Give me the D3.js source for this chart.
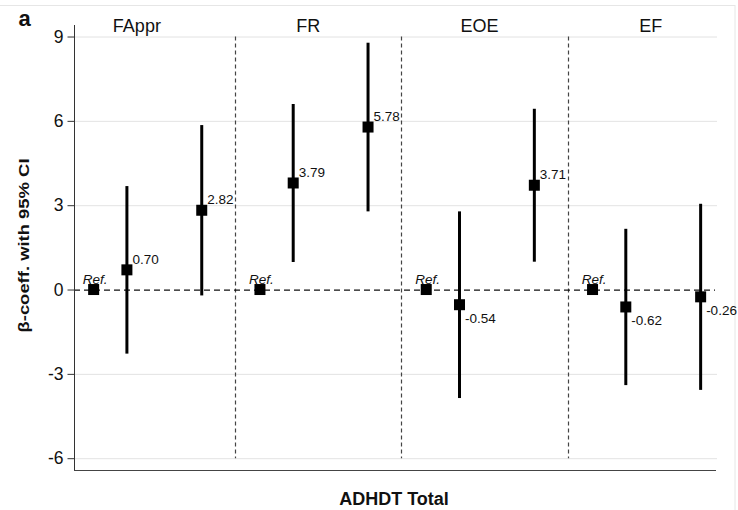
<!DOCTYPE html>
<html>
<head>
<meta charset="utf-8">
<script src="https://cdn.jsdelivr.net/npm/d3@7/dist/d3.min.js"></script>
<style>
  html, body { margin: 0; padding: 0; background: #fff; }
  svg { display: block; font-family: "Liberation Sans", Arial, Helvetica, sans-serif; }
</style>
</head>
<body>
<svg id="chart" width="738" height="510"></svg>
<script>
// Outcome domains (one panel each)
const panels = ["FAppr", "FR", "EOE", "EF"];
// Exposure levels within each panel: reference group and two comparison groups
const levels = ["Ref", "Mid", "High"];
// Beta coefficients per panel (reference group = 0)
const estimates = [
  [0, 0.70, 2.82],
  [0, 3.79, 5.78],
  [0, -0.54, 3.71],
  [0, -0.62, -0.26]
];
// 95% confidence limits (none for the reference group)
const lower = [
  [null, -2.28, -0.21],
  [null, 0.98, 2.78],
  [null, -3.86, 0.99],
  [null, -3.40, -3.57]
];
const upper = [
  [null, 3.68, 5.85],
  [null, 6.60, 8.78],
  [null, 2.78, 6.43],
  [null, 2.16, 3.05]
];
const yTicks = [-6, -3, 0, 3, 6, 9];

const svg = d3.select("#chart");

// Scales: panels occupy one unit each on x
const x = d3.scaleLinear().domain([0, 4]).range([68.7, 733.9]);
const y = d3.scaleLinear().domain([-6.42, 9.41]).range([470, 25]);
const levelOffset = [0.15, 0.35, 0.80];   // position of each level inside a panel
const plotLeft = 74, plotRight = 716;

// Plain hyphen-minus for negative numbers
const fmtInt = d => String(d);
const fmt2 = d => d.toFixed(2);

// Light outer frame
svg.append("rect")
  .attr("x", -2).attr("y", 5.5).attr("width", 737).attr("height", 520)
  .attr("fill", "none").attr("stroke", "#e6e6e6").attr("stroke-width", 1);

// Horizontal grid lines
svg.append("g").selectAll("line")
  .data(yTicks.filter(t => t !== 0))
  .join("line")
  .attr("x1", plotLeft).attr("x2", plotRight + 1)
  .attr("y1", d => y(d) + 0.5).attr("y2", d => y(d) + 0.5)
  .attr("stroke", "#e3e3e3").attr("stroke-width", 1);

// Panel separators
svg.append("g").selectAll("line")
  .data([1, 2, 3])
  .join("line")
  .attr("x1", d => Math.round(x(d)) + 0.5).attr("x2", d => Math.round(x(d)) + 0.5)
  .attr("y1", y(9)).attr("y2", y(-6))
  .attr("stroke", "#444").attr("stroke-width", 1.2)
  .attr("stroke-dasharray", "4,3");

// Zero reference line
svg.append("line")
  .attr("x1", plotLeft).attr("x2", plotRight - 1)
  .attr("y1", y(0) + 0.5).attr("y2", y(0) + 0.5)
  .attr("stroke", "#111").attr("stroke-width", 1.2)
  .attr("stroke-dasharray", "6,4");

// Y axis
const yAxis = d3.axisLeft(y).tickValues(yTicks).tickSize(7).tickPadding(4).tickFormat(fmtInt);
const gy = svg.append("g").attr("transform", `translate(${plotLeft + 0.5},0)`).call(yAxis);
gy.select(".domain").attr("stroke", "#333").attr("d", `M-0,${y.range()[0]}V${y.range()[1]}`);
gy.selectAll(".tick line").attr("stroke", "#333");
gy.selectAll(".tick text")
  .attr("fill", "#111").attr("font-size", "17.5px")
  .attr("font-family", "Liberation Sans, Arial, sans-serif");

// X axis line (no ticks)
svg.append("line")
  .attr("x1", plotLeft).attr("x2", plotRight)
  .attr("y1", 470.5).attr("y2", 470.5)
  .attr("stroke", "#444").attr("stroke-width", 1.2);

// Build point records
const points = [];
panels.forEach((p, i) => {
  levels.forEach((lv, j) => {
    points.push({
      panel: i, level: j, est: estimates[i][j],
      lo: lower[i][j], hi: upper[i][j],
      cx: x(i + levelOffset[j])
    });
  });
});

// Confidence intervals
svg.append("g").selectAll("line")
  .data(points.filter(d => d.lo !== null))
  .join("line")
  .attr("x1", d => d.cx).attr("x2", d => d.cx)
  .attr("y1", d => y(d.hi)).attr("y2", d => y(d.lo))
  .attr("stroke", "#000").attr("stroke-width", 3);

// Point estimates
const sq = 11;
svg.append("g").selectAll("rect")
  .data(points)
  .join("rect")
  .attr("x", d => d.cx - sq / 2).attr("y", d => y(d.est) - sq / 2)
  .attr("width", sq).attr("height", sq)
  .attr("fill", "#000");

// Value labels: above-right for positive, below-right for negative
svg.append("g").selectAll("text")
  .data(points.filter(d => d.lo !== null))
  .join("text")
  .attr("x", d => d.cx + 5.5)
  .attr("y", d => d.est >= 0 ? y(d.est) - 6 : y(d.est) + 18)
  .attr("font-size", "13.5px").attr("fill", "#111")
  .text(d => fmt2(d.est));

// Reference-group labels
svg.append("g").selectAll("text")
  .data(points.filter(d => d.lo === null))
  .join("text")
  .attr("x", d => d.cx + 1.5)
  .attr("y", d => y(d.est) - 5.5)
  .attr("text-anchor", "middle")
  .attr("font-size", "13.5px").attr("font-style", "italic").attr("fill", "#111")
  .text("Ref.");

// Panel titles
const titleOffset = [0.41, 1.44, 2.47, 3.50];
svg.append("g").selectAll("text")
  .data(panels)
  .join("text")
  .attr("x", (d, i) => x(titleOffset[i]))
  .attr("y", 32)
  .attr("text-anchor", "middle")
  .attr("font-size", "18px").attr("fill", "#111")
  .text(d => d);

// Axis titles
svg.append("text")
  .attr("transform", "translate(28.5,245.5) rotate(-90)")
  .attr("text-anchor", "middle")
  .attr("font-size", "14.5px").attr("font-weight", "bold").attr("fill", "#111")
  .attr("textLength", 174).attr("lengthAdjust", "spacingAndGlyphs")
  .text("β-coeff. with 95% CI");

svg.append("text")
  .attr("x", 394).attr("y", 505)
  .attr("text-anchor", "middle")
  .attr("font-size", "18px").attr("font-weight", "bold").attr("fill", "#111")
  .text("ADHDT Total");

// Panel letter
svg.append("text")
  .attr("x", 18.5).attr("y", 26)
  .attr("font-size", "22px").attr("font-weight", "bold").attr("fill", "#111")
  .text("a");
</script>
</body>
</html>
